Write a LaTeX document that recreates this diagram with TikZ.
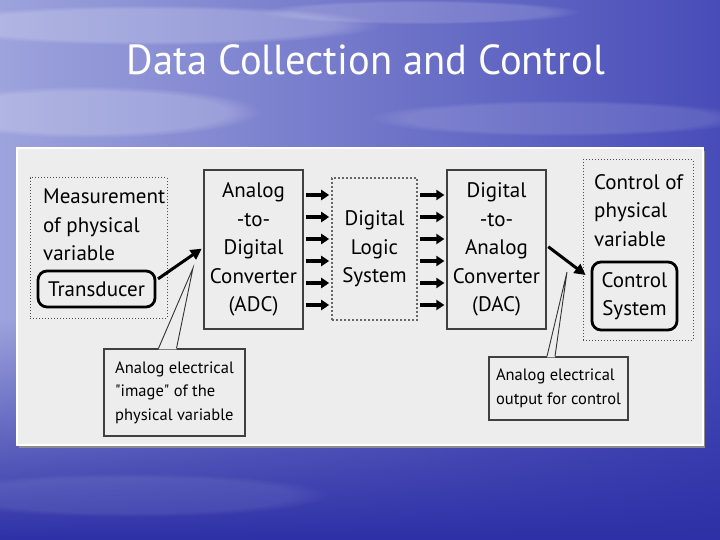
\documentclass[tikz,border=0pt]{standalone}
\usepackage{fontspec}
\setmainfont{PT Sans}
\usepackage{graphicx}
\usetikzlibrary{arrows.meta,fadings,positioning}
\definecolor{skyleft}{HTML}{9DA3DC}
\definecolor{skyright}{HTML}{484CB8}
\definecolor{skydeep}{HTML}{2D30A6}
\definecolor{panelgray}{HTML}{EDEDED}
\newcommand{\diagfont}{\fontsize{21}{28.5}\selectfont}
\newcommand{\notefont}{\fontsize{16.5}{23.5}\selectfont}
\newcommand{\titletext}{\resizebox{478pt}{\height}{\fontsize{42}{46}\selectfont Data Collection and Control}}

\begin{document}
\begin{tikzpicture}[x=1pt,y=-1pt,
  box/.style={draw=black!75,line width=1.3pt,align=center,inner sep=0pt,font=\diagfont},
  roundbox/.style={draw=black,line width=2.8pt,rounded corners=9pt,align=center,inner sep=0pt,font=\diagfont},
  dotbox/.style={draw=black!70,dotted,line width=1pt},
  dashbox/.style={draw=black!60,dash pattern=on 2pt off 2pt,line width=1.6pt,align=center,inner sep=0pt,font=\diagfont},
  label/.style={anchor=north west,align=left,inner sep=0pt,font=\diagfont},
  callout/.style={draw=black!75,line width=1.3pt,align=left,inner sep=0pt,font=\notefont},
  busarrow/.style={-{Triangle[length=8pt,width=10pt]},line width=3.5pt,shorten <=2pt,shorten >=2pt},
  bigarrow/.style={-{Triangle[length=11pt,width=11pt]},line width=3pt},
  pointer/.style={draw=black!80,line width=0.9pt}]
\useasboundingbox (0,0) rectangle (720,540);
\shade[left color=skyleft,right color=skyright] (0,0) rectangle (720,540); %sky
\fill[skydeep,path fading=north] (0,320) rectangle (720,540);
\fill[white,opacity=0.2,path fading=circle with fuzzy edge 20 percent] (150,25) ellipse [x radius=230pt,y radius=20pt]; %clouds
\fill[white,opacity=0.15,path fading=circle with fuzzy edge 20 percent] (420,12) ellipse [x radius=160pt,y radius=12pt];
\fill[white,opacity=0.2,path fading=circle with fuzzy edge 20 percent] (90,112) ellipse [x radius=170pt,y radius=26pt];
\fill[white,opacity=0.12,path fading=circle with fuzzy edge 20 percent] (560,118) ellipse [x radius=190pt,y radius=18pt];
\fill[white,opacity=0.08,path fading=circle with fuzzy edge 20 percent] (130,495) ellipse [x radius=200pt,y radius=22pt];
\node[text=white] (title) at (366,60) {\titletext}; %title
\fill[black!45] (19,151) rectangle (705,448); %panel
\draw[white,line width=2.5pt,fill=panelgray] (17,148) rectangle (703,445);
\node[dotbox,minimum width=137pt,minimum height=140pt] (meas) at (98.5,248) {}; %measurement
\node[label] (meastext) at (43,189) {Measurement\\of physical\\variable};
\node[roundbox,minimum width=117pt,minimum height=36pt] (trans) at (96.5,289) {Transducer};
\node[box,minimum width=99pt,minimum height=159pt] (adc) at (253.5,249.5) {Analog\\-to-\\Digital\\Converter\\(ADC)}; %adc
\node[dashbox,minimum width=85pt,minimum height=142pt] (dls) at (374.5,249) {Digital\\Logic\\System}; %logic
\node[box,minimum width=99pt,minimum height=159pt] (dac) at (496.5,249.5) {Digital\\-to-\\Analog\\Converter\\(DAC)}; %dac
\node[dotbox,minimum width=110pt,minimum height=180pt] (ctl) at (638,250) {}; %control
\node[label] (ctltext) at (594,174) {Control of\\physical\\variable};
\node[roundbox,minimum width=85pt,minimum height=68pt] (csys) at (634.5,296) {Control\\System};
\node[callout,minimum width=141pt,minimum height=87pt] (note1) at (174.5,392.5) {Analog electrical\\\textquotedbl image\textquotedbl{} of the\\physical variable}; %notes
\node[callout,minimum width=139pt,minimum height=63pt] (note2) at (558.5,388.5) {Analog electrical\\output for control};
\foreach \y in {195,217,239,261,283,305} {
  \draw[busarrow] (adc.east |- 0,\y) -- (dls.west |- 0,\y);
  \draw[busarrow] (dls.east |- 0,\y) -- (dac.west |- 0,\y);
}
\draw[bigarrow,shorten <=2pt,shorten >=2pt] ([yshift=9pt]trans.east) -- ([yshift=2pt]adc.west); %signal arrows
\draw[bigarrow,shorten <=2pt] ([yshift=4pt]dac.east) -- ([xshift=-5pt,yshift=21pt]csys.west);
\coordinate (tip1) at (193,268); %pointers
\coordinate (tip2) at (567,272);
\fill[panelgray] ([xshift=-16pt,yshift=-1pt]note1.north) -- (tip1) -- ([xshift=2pt,yshift=-1pt]note1.north) -- cycle;
\draw[pointer] ([xshift=-16pt]note1.north) -- (tip1) -- ([xshift=2pt]note1.north);
\fill[panelgray] ([xshift=-11.5pt,yshift=-1pt]note2.north) -- (tip2) -- ([xshift=-3.5pt,yshift=-1pt]note2.north) -- cycle;
\draw[pointer] ([xshift=-11.5pt]note2.north) -- (tip2) -- ([xshift=-3.5pt]note2.north);
\end{tikzpicture}
\end{document}
